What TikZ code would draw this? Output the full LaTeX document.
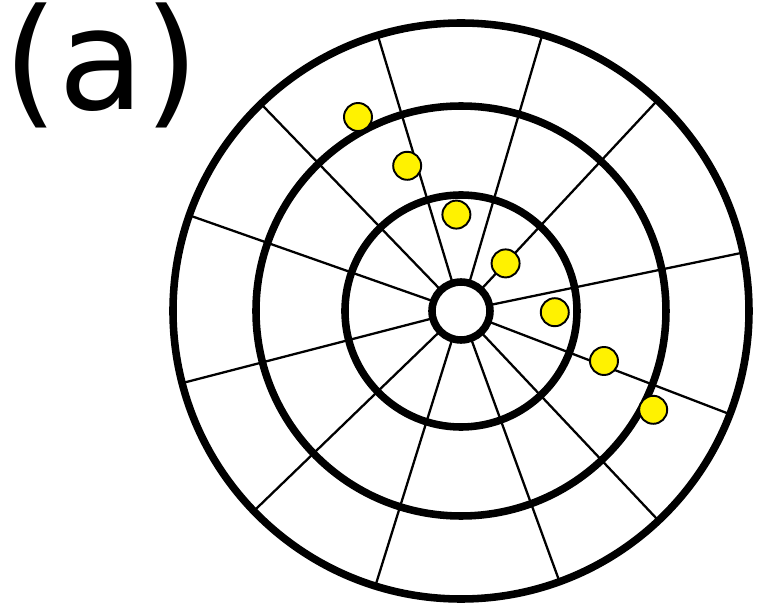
\documentclass[tikz,border=0pt]{standalone}
\usepackage{fontspec}
\setmainfont{DejaVu Sans}
\usetikzlibrary{positioning}
\begin{document}
\begin{tikzpicture}[
    ring/.style={draw=black,line width=4.3pt},
    spoke/.style={draw=black,line width=1.3pt},
    dot/.style={circle,draw=black,fill=yellow,line width=1.1pt,
               inner sep=0pt,minimum size=0.56cm},
    lbl/.style={font=\fontsize{80}{96}\selectfont,inner sep=0pt,anchor=base west}
  ]
    \useasboundingbox (-9.22,-5.9) rectangle (5.92,6.22);
    % spokes
    \foreach \a in {11.7,47,73.6,106.8,134,160.6,194.5,224,252.7,290,313.3,339}
      \draw[spoke] (\a:0.58) -- (\a:5.76);
    % rings
    \draw[ring] (0,0) circle (5.76);
    \draw[ring] (0,0) circle (4.1);
    \draw[ring] (0,0) circle (2.32);
    \draw[ring,fill=white] (0,0) circle (0.58);
    % particles
    \foreach \i in {0,...,6}
      \node[dot] (p\i) at ({-2.06+0.984*\i},{3.88-0.976*\i}) {};
    \node[lbl] (tag) at (-9.16,4.02) {(a)};
  \end{tikzpicture}
\end{document}
